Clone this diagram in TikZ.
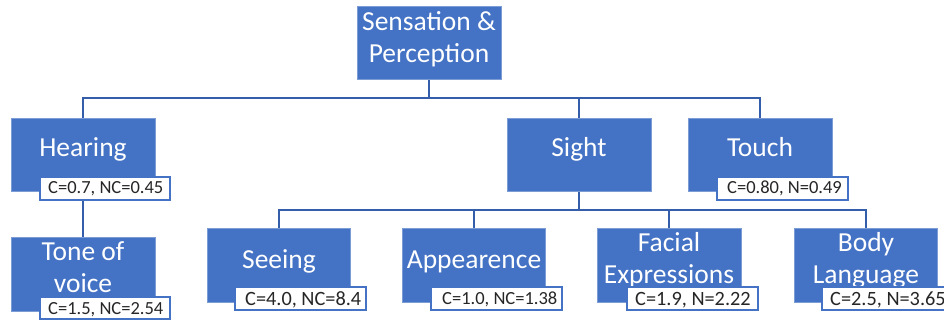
\documentclass[tikz,border=0pt]{standalone}
\usepackage{fontspec}
\setmainfont{Carlito}
\definecolor{boxblue}{RGB}{68,114,196}
\definecolor{lineblue}{RGB}{52,94,170}
\tikzset{
  x=1pt, y=-1pt,
  conn/.style={draw=lineblue, line width=1.6pt},
  mainbox/.style={fill=boxblue, draw=boxblue!70!white, line width=0.6pt},
  lblbox/.style={fill=white, draw=boxblue, line width=1.5pt},
  maintext/.style={text=white, font=\fontsize{27.5}{32}\selectfont, anchor=base, inner sep=0pt, align=center},
  lbltext/.style={text=black!85, font=\fontsize{18.5}{22}\selectfont, anchor=base west, inner sep=0pt},
  lbltextbig/.style={lbltext, font=\fontsize{20.3}{22}\selectfont},
}
\begin{document}
\begin{tikzpicture}
\useasboundingbox (0,0) rectangle (944,320);
\clip (0,0) rectangle (944,320);
% anchor coordinates for connectors
\coordinate (topb) at (429,79);
\coordinate (bus1) at (429,98);
\coordinate (hearT) at (83,118);
\coordinate (sightT) at (579,118);
\coordinate (touchT) at (760,118);
\coordinate (sightB) at (579,191);
\coordinate (bus2) at (579,210);
\coordinate (seeT) at (279,228);
\coordinate (appT) at (474,228);
\coordinate (facT) at (669,228);
\coordinate (bodT) at (866,228);
\coordinate (hearB) at (83,191);
\coordinate (toneT) at (83,237);
% connectors
\draw[conn] (topb) -- (bus1);
\draw[conn] (hearT) |- (bus1) -| (touchT);
\draw[conn] (bus1) -| (sightT);
\draw[conn] (sightB) -- (bus2);
\draw[conn] (seeT) |- (bus2) -| (bodT);
\draw[conn] (appT) |- (bus2);
\draw[conn] (facT) |- (bus2);
\draw[conn] (hearB) -- (toneT);
% boxes
\path[mainbox] (357,6) rectangle (501,79);
\path[mainbox] (11,118) rectangle (155,191);
\path[mainbox] (507,118) rectangle (651,191);
\path[mainbox] (688,118) rectangle (832,191);
\path[mainbox] (11,237) rectangle (155,311);
\path[mainbox] (207,228) rectangle (350,302);
\path[mainbox] (402,228) rectangle (545,302);
\path[mainbox] (597,228) rectangle (741,302);
\path[mainbox] (794,228) rectangle (937,302);
% main texts (anchor = baseline of last line)
\node[maintext] (ttop) at (429,63) {Sensation \&\\Perception};
\node[maintext] (thear) at (83,157) {Hearing};
\node[maintext] (tsight) at (579,157) {Sight};
\node[maintext] (ttouch) at (760,157) {Touch};
\node[maintext] (ttone) at (83,292) {Tone of\\voice};
\node[maintext] (tsee) at (279,268) {Seeing};
\node[maintext] (tapp) at (474,268) {Appearence};
\node[maintext] (tfac) at (669,283) {Facial\\Expressions};
\node[maintext] (tbod) at (866,283) {Body\\Language};
% label boxes
\path[lblbox] (40,177) rectangle (170,200);
\path[lblbox] (717,177) rectangle (848,200);
\path[lblbox] (40,297) rectangle (170,319);
\path[lblbox] (235,287) rectangle (366,310);
\path[lblbox] (431,287) rectangle (562,310);
\path[lblbox] (627,287) rectangle (758,310);
\path[lblbox] (822,287) rectangle (953,310);
% label texts
\node[lbltext] (lhear) at (48,194) {C=0.7, NC=0.45};
\node[lbltext] (ltouch) at (727,194) {C=0.80, N=0.49};
\node[lbltext] (ltone) at (48,314) {C=1.5, NC=2.54};
\node[lbltextbig] (lsee) at (245,305) {C=4.0, NC=8.4};
\node[lbltext] (lapp) at (442,304) {C=1.0, NC=1.38};
\node[lbltextbig] (lfac) at (635,305) {C=1.9, N=2.22};
\node[lbltextbig] (lbod) at (830,305) {C=2.5, N=3.65};
\end{tikzpicture}
\end{document}
